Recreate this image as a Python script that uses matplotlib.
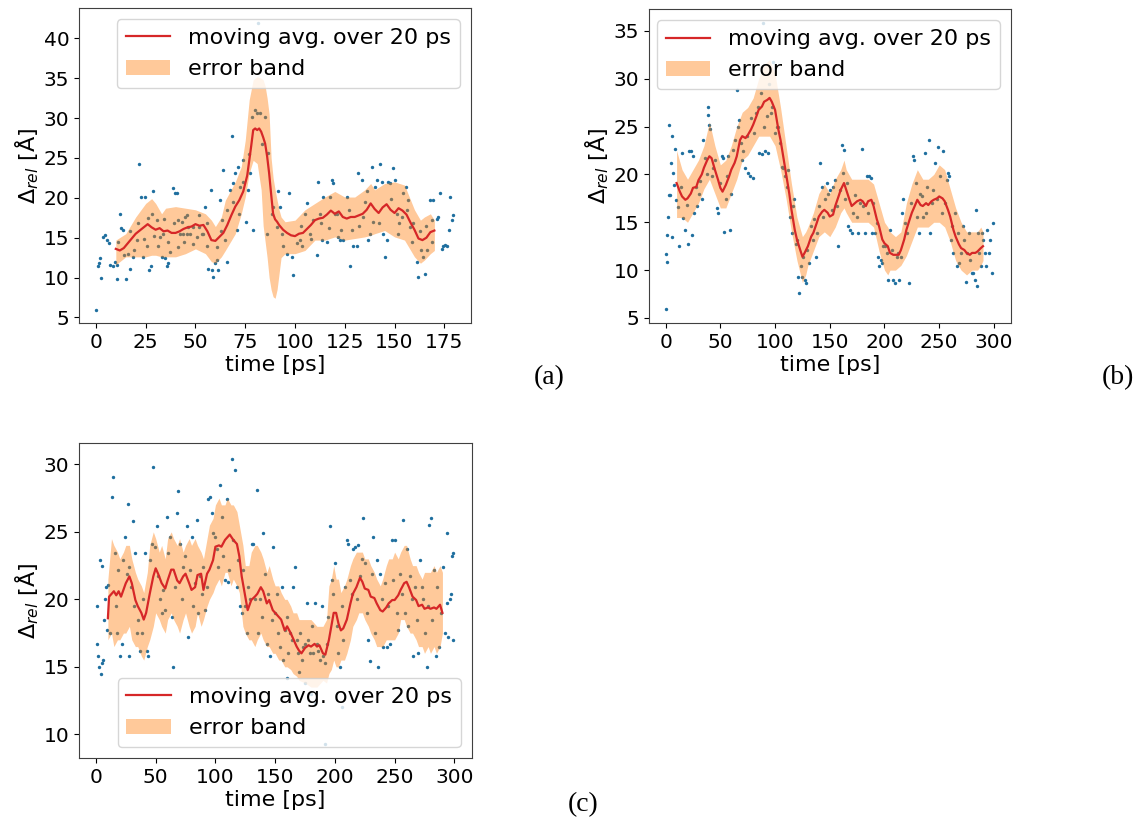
import matplotlib.pyplot as plt
import numpy as np

# ---------------- panel (a) ----------------
a_line_t = [10, 12, 14, 16, 18, 20, 22, 24, 26, 28, 30, 32, 34, 36, 38, 40, 42, 44, 46, 48,
            50, 52, 54, 56, 58, 60, 62, 64, 66, 68, 70, 72, 74, 76, 78, 79, 80, 81, 82, 83,
            84, 85, 86, 87, 88, 89, 90, 91, 92, 94, 96, 98, 100, 102, 104, 106, 108, 110, 112, 114,
            116, 118, 120, 122, 124, 126, 128, 130, 132, 134, 136, 138, 140, 142, 144, 146, 148, 150, 152, 154,
            156, 158, 160, 162, 164, 166, 168, 170]
a_line_v = [13.6, 13.4, 13.7, 14.3, 14.9, 15.5, 15.9, 16.3, 16.7, 16.3, 16.0, 16.2, 15.8, 15.9, 15.6, 15.6, 15.8, 16.1, 16.3, 16.4,
            16.7, 16.5, 16.6, 15.8, 14.7, 14.6, 15.1, 15.6, 16.6, 17.8, 18.9, 19.7, 20.8, 22.8, 26.5, 28.5, 28.7, 28.5, 28.7, 28.3,
            27.6, 26.8, 25.2, 23.1, 20.5, 18.0, 17.3, 17.0, 16.6, 16.0, 15.6, 15.3, 15.2, 15.5, 15.6, 16.1, 16.6, 17.2, 17.4, 17.5,
            17.9, 18.4, 18.0, 18.3, 17.6, 17.4, 17.6, 17.6, 17.8, 18.0, 18.5, 19.3, 18.6, 18.1, 18.8, 19.2, 18.5, 18.1, 18.7, 18.4,
            17.9, 16.9, 16.0, 14.9, 14.7, 15.0, 15.7, 15.9]
a_band_t = [10, 15, 20, 25, 28, 30, 33, 35, 40, 45, 50, 55, 58, 60, 63, 65, 70, 73, 75, 77,
            79, 81, 83, 84, 85, 86, 87, 88, 89, 90, 91, 92, 93, 95, 100, 105, 110, 115, 120, 125,
            130, 135, 138, 140, 145, 150, 155, 160, 163, 165, 168, 170]
a_band_hi = [14.7, 15.5, 17.6, 19.3, 19.9, 19.3, 18.0, 18.7, 18.9, 18.7, 18.5, 18.0, 17.2, 16.4, 17.6, 19.7, 22.0, 23.9, 27.2, 32.3,
             34.8, 35.2, 35.0, 34.8, 34.0, 32.5, 30.5, 25.0, 22.5, 21.0, 19.7, 18.5, 17.6, 17.0, 17.2, 18.5, 19.3, 20.1, 20.8, 20.1,
             20.1, 21.0, 21.8, 21.0, 21.8, 22.0, 21.6, 18.5, 17.2, 17.6, 18.0, 17.2]
a_band_lo = [11.6, 12.6, 12.6, 12.6, 12.8, 12.8, 12.6, 12.6, 12.6, 13.0, 13.6, 13.0, 12.0, 11.8, 12.6, 13.4, 15.5, 18.0, 20.1, 23.1,
             24.7, 24.3, 21.0, 16.5, 14.5, 12.5, 10.0, 8.5, 7.6, 7.4, 8.5, 10.5, 12.5, 13.0, 13.0, 13.4, 14.7, 14.7, 15.1, 14.7,
             14.9, 15.1, 15.3, 15.5, 15.9, 15.1, 14.7, 12.6, 11.8, 12.2, 13.0, 13.4]
a_pts = [(0, 5.9), (1.2, 11.4), (1.7, 11.8), (2.0, 12.4), (2.8, 9.9), (3.7, 15.1), (4.5, 15.3), (5.4, 14.7),
         (6.5, 14.3), (7.0, 11.6), (8.7, 11.4), (9.5, 12.0), (10.4, 11.6), (10.7, 9.8), (12.1, 18.0), (12.4, 16.2),
         (13.7, 16.0), (14.9, 9.8), (16.2, 13.0), (17.1, 11.1), (18.8, 12.6), (20.4, 14.7), (21.8, 24.2), (22.9, 20.1),
         (23.8, 12.6), (24.6, 20.1), (25.5, 13.9), (26.6, 10.9), (27.5, 11.4), (28.0, 18.0), (28.8, 20.8), (30.5, 17.2),
         (32.2, 15.1), (33.0, 12.6), (33.8, 15.5), (34.7, 12.4), (35.5, 11.4), (36.3, 11.8), (37.2, 13.2), (38.9, 21.2),
         (39.7, 20.6), (40.9, 20.6), (41.4, 17.2), (42.2, 15.5), (43.0, 17.0), (43.9, 15.5), (44.7, 17.6), (45.6, 15.5),
         (46.4, 16.4), (47.2, 15.5), (48.9, 16.4), (50.6, 15.1), (51.9, 16.4), (53.1, 15.5), (53.9, 15.5), (54.8, 18.9),
         (55.6, 16.8), (56.4, 11.1), (57.6, 21.0), (58.1, 10.9), (59.0, 10.1), (59.8, 11.8), (60.6, 12.2), (61.5, 10.9),
         (62.3, 19.7), (63.1, 17.2), (64.0, 23.5), (64.8, 14.7), (65.7, 12.0), (67.3, 21.0), (68.2, 27.7), (69.0, 21.8),
         (69.8, 23.1), (70.7, 16.0), (71.5, 23.9), (72.4, 21.4), (74.0, 24.7), (75.4, 17.0), (76.6, 21.0), (77.4, 23.1),
         (78.2, 30.2), (79.1, 16.0), (79.9, 31.0), (80.7, 30.6), (81.6, 41.9), (82.4, 30.6), (83.2, 26.8), (84.9, 30.2),
         (85.8, 15.5), (86.6, 25.6), (88.3, 18.0), (89.1, 18.9), (90.8, 16.4), (91.6, 20.8), (92.5, 18.9), (93.3, 15.5),
         (94.1, 13.9), (95.8, 13.0), (97.2, 20.6), (98.3, 12.6), (99.2, 10.3), (100.8, 14.3), (102.5, 14.7), (103.3, 13.9),
         (105.0, 18.0), (105.9, 19.3), (107.5, 15.5), (109.2, 17.2), (110.9, 12.8), (111.7, 22.0), (112.6, 18.0), (113.4, 14.7),
         (114.2, 20.1), (115.9, 14.5), (117.6, 20.1), (118.4, 22.2), (119.3, 21.8), (120.1, 18.0), (120.9, 18.0), (121.8, 15.1),
         (122.6, 14.7), (124.3, 14.7), (125.9, 20.1), (127.6, 11.4), (128.5, 16.0), (129.3, 13.9), (131.0, 13.9), (131.8, 23.1),
         (133.5, 22.2), (134.3, 17.6), (136.0, 20.8), (136.9, 14.7), (137.7, 15.5), (138.5, 23.9), (140.2, 21.4), (141.0, 22.2),
         (142.7, 24.3), (143.6, 22.0), (144.4, 15.5), (145.2, 12.6), (146.1, 14.7), (146.9, 22.0), (147.7, 21.8), (149.4, 23.7),
         (150.3, 22.2), (151.1, 18.0), (151.9, 15.5), (153.6, 17.6), (154.4, 20.6), (155.8, 21.4), (157.0, 19.7), (157.8, 16.4),
         (159.5, 16.9), (161.1, 12.0), (162.0, 10.1), (163.1, 13.4), (164.5, 12.6), (165.3, 10.5), (166.2, 13.4), (167.8, 19.7),
         (168.7, 17.2), (169.5, 19.7), (171.2, 17.4), (172.0, 17.6), (172.9, 20.6), (173.7, 13.6), (174.5, 13.9), (175.3, 14.1),
         (176.2, 13.9), (177.1, 16.0), (177.9, 20.1), (178.7, 17.2), (179.6, 17.8),
         (11, 14.5), (14, 12.8), (17, 15.8), (19, 13.5), (21, 16.8), (24, 14.8), (26, 17.5), (29, 15.2), (31, 14.0),
         (34, 17.3), (36, 14.5), (39, 16.8), (41, 13.8), (44, 14.5), (46, 17.8), (49, 14.2), (52, 17.8), (56, 14.0),
         (61, 13.8), (63, 15.8), (66, 18.5), (69, 19.5), (72, 18.0), (74, 22.0), (77, 25.5), (103, 16.5), (108, 14.8),
         (113, 16.8), (117, 16.2), (123, 16.0), (127, 18.5), (132, 16.5), (135, 19.5), (139, 17.0), (142, 16.8),
         (148, 19.8), (152, 16.8), (156, 18.5), (159, 14.5), (163, 15.8), (166, 16.5), (169, 14.5)]

# ---------------- panel (b) ----------------
b_line_t = [10, 13, 15, 18, 20, 23, 25, 28, 30, 33, 35, 38, 40, 42, 45, 48, 50, 52, 55, 58,
            60, 63, 65, 68, 70, 73, 75, 78, 80, 83, 85, 88, 90, 93, 95, 97, 100, 103, 105, 108,
            110, 113, 115, 118, 120, 123, 125, 127, 130, 133, 135, 138, 140, 143, 145, 148, 150, 153, 155, 158,
            160, 163, 165, 168, 170, 173, 175, 178, 180, 183, 185, 188, 190, 193, 195, 198, 200, 203, 205, 208,
            210, 213, 215, 218, 220, 223, 225, 228, 230, 233, 235, 238, 240, 243, 245, 248, 250, 253, 255, 258,
            260, 263, 265, 268, 270, 273, 275, 278, 280, 283, 285, 288, 290]
b_line_v = [19.1, 18.2, 17.7, 17.35, 17.5, 18.0, 18.6, 18.7, 19.4, 20.0, 20.7, 21.5, 21.9, 21.7, 20.5, 19.4, 18.6, 18.2, 18.9, 19.8,
            20.5, 21.2, 21.9, 23.6, 24.0, 23.8, 24.1, 24.7, 25.2, 26.1, 26.75, 27.1, 27.6, 27.8, 28.0, 27.6, 26.75, 24.7, 23.6, 21.5,
            20.1, 18.0, 16.3, 14.2, 13.2, 12.1, 11.4, 11.8, 12.5, 13.5, 13.9, 14.9, 15.6, 16.1, 16.3, 16.0, 15.6, 15.8, 16.7, 17.7,
            18.4, 19.1, 18.4, 17.35, 16.7, 17.0, 17.2, 17.35, 17.2, 16.7, 17.2, 17.35, 16.7, 15.3, 14.6, 13.2, 12.8, 12.5, 11.8, 11.6,
            11.6, 11.6, 12.1, 13.2, 14.2, 15.3, 16.0, 16.8, 17.35, 16.8, 16.7, 17.0, 16.8, 17.2, 17.35, 17.5, 17.7, 17.5, 17.2, 16.3,
            15.6, 14.2, 13.5, 12.7, 12.3, 12.1, 11.8, 11.6, 11.8, 11.8, 11.95, 12.3, 12.5]
b_band_t = [10, 15, 20, 25, 30, 35, 40, 45, 50, 55, 60, 65, 70, 75, 80, 85, 90, 95, 100, 105,
            110, 115, 120, 125, 128, 130, 135, 140, 145, 150, 155, 160, 163, 165, 170, 175, 180, 185, 190, 195,
            200, 203, 205, 210, 215, 220, 225, 230, 235, 240, 245, 250, 255, 260, 265, 270, 275, 280, 285, 288, 290]
b_band_hi = [22.5, 20.5, 19.5, 20.5, 21.5, 23.0, 25.5, 23.0, 21.0, 21.5, 23.0, 25.0, 26.5, 27.0, 28.0, 30.0, 31.5, 32.0, 30.5, 27.0,
             23.0, 19.0, 15.5, 13.5, 14.0, 14.5, 16.0, 18.0, 19.0, 18.0, 19.5, 20.5, 21.5, 20.5, 19.5, 19.5, 19.5, 19.5, 19.0, 17.0,
             15.0, 14.5, 14.0, 13.5, 14.0, 17.0, 19.0, 20.5, 19.5, 19.5, 20.0, 21.0, 20.5, 18.5, 16.5, 15.0, 14.0, 14.0, 14.0, 14.5, 14.0]
b_band_lo = [15.5, 15.5, 15.0, 16.0, 17.0, 18.5, 19.5, 18.0, 16.5, 16.5, 18.0, 19.5, 21.5, 22.0, 23.0, 24.0, 24.0, 24.0, 23.0, 20.5,
             17.5, 14.0, 11.0, 8.7, 9.5, 10.5, 12.0, 13.5, 14.0, 13.5, 14.5, 16.0, 16.5, 16.0, 15.0, 15.0, 15.0, 15.0, 14.5, 12.0,
             10.0, 9.5, 10.0, 10.0, 10.5, 11.5, 13.0, 14.5, 14.5, 14.5, 15.0, 15.0, 14.5, 13.0, 11.0, 10.0, 9.5, 10.0, 10.0, 10.5, 11.0]
b_pts = [(0, 5.9), (0.3, 11.7), (1, 13.7), (1.5, 10.8), (2.4, 15.6), (3, 17.9), (3.4, 25.2), (4, 17.9), (4.9, 21.2),
         (5.5, 13.5), (6.1, 24.0), (7, 20.1), (7.6, 18.9), (8.5, 22.7), (9.4, 17.3), (11.6, 16.6), (12.5, 12.5), (14, 18.7),
         (15.2, 22.2), (16.1, 15.4), (17.7, 14.2), (19.2, 16.8), (20.7, 12.7), (21.6, 22.5), (22.8, 22.4), (23.8, 13.7),
         (25.3, 21.9), (25.9, 16.0), (27.7, 18.7), (28.9, 16.7), (30.5, 18.0), (31.4, 19.3), (32.9, 17.4), (34.4, 23.6),
         (35.9, 21.7), (37.5, 20.0), (38.4, 27.1), (39, 26.2), (39.9, 25.2), (40.5, 24.7), (42, 19.8), (43.6, 20.7),
         (45.1, 21.5), (46.6, 16.5), (48.1, 16.0), (49.6, 19.1), (51.2, 21.9), (52.7, 21.7), (53.3, 14.0), (55.1, 17.4),
         (55.7, 19.8), (57.3, 21.9), (58.8, 14.2), (60, 18.0), (61.8, 22.6), (63.4, 23.6), (64.9, 28.8), (65.8, 25.0),
         (67.3, 25.7), (68.5, 23.3), (69.4, 21.5), (70.9, 22.4), (72.5, 20.7), (74, 24.0), (75.5, 20.1), (77.1, 19.8),
         (78, 25.9), (79.5, 19.6), (81, 24.3), (82.5, 26.4), (84.1, 27.1), (85.6, 22.2), (86.8, 28.5), (87.7, 22.1),
         (88.6, 35.8), (89.9, 25.0), (90.8, 22.4), (92.3, 26.1), (93.8, 22.2), (94.7, 29.5), (95.9, 26.4), (97.5, 27.1),
         (98.4, 31.8), (99.9, 24.3), (101.4, 25.0), (103, 25.0), (104.5, 23.3), (106, 20.8), (107.5, 20.7), (109.1, 19.8),
         (110.6, 18.7), (112.1, 20.5), (113.6, 15.6), (115.1, 13.9), (116.7, 16.7), (117.6, 17.4), (119.1, 12.7), (120.3, 13.2),
         (121.2, 9.3), (122.1, 7.6), (123.4, 10.4), (124.9, 9.3), (125.8, 11.4), (127.3, 9.0), (128.2, 8.7), (129.5, 12.1),
         (131.3, 10.7), (132.5, 14.6), (134.3, 13.2), (135.5, 15.3), (137.4, 11.4), (138.6, 13.9), (139.8, 16.7), (141, 21.2),
         (142.6, 18.7), (144.1, 15.6), (145.6, 17.4), (147.1, 19.1), (148.6, 18.0), (150.2, 18.4), (151.7, 16.3), (153.2, 18.7),
         (154.7, 19.4), (156.3, 16.7), (157.8, 12.5), (159.3, 18.4), (160.8, 23.1), (161.7, 20.1), (162.9, 22.6), (164.2, 17.4),
         (165.4, 19.1), (166.9, 14.6), (168.4, 14.2), (170, 13.9), (171.5, 16.0), (173, 17.9), (174.5, 15.6), (176.1, 13.9),
         (177.6, 17.0), (179.1, 22.7), (180.6, 16.7), (182.2, 13.9), (183.7, 19.8), (185.2, 16.0), (186.1, 19.8), (187.3, 19.6),
         (188.2, 13.9), (189.8, 17.0), (191.3, 13.9), (192.8, 14.9), (194.3, 11.4), (195.2, 10.4), (196.5, 11.1), (197.7, 10.7),
         (198.9, 12.5), (200.4, 12.5), (202, 11.8), (203.5, 9.0), (205, 14.2), (206.5, 12.1), (208, 9.0), (209.6, 8.7),
         (211.1, 11.4), (212.6, 11.8), (213.5, 9.0), (214.7, 11.4), (215.7, 16.0), (217.2, 17.4), (218.7, 14.9), (220.2, 13.9),
         (222.7, 8.7), (223.9, 17.0), (225.7, 21.9), (226.9, 21.5), (228.8, 19.1), (230, 15.6), (231.2, 13.9), (232.4, 18.0),
         (233.9, 17.7), (235.5, 15.6), (236.7, 22.2), (237.9, 16.0), (239.1, 18.7), (240.6, 23.6), (241.5, 13.9), (243.1, 17.0),
         (244.6, 18.4), (246.1, 21.2), (247.6, 17.4), (249.2, 22.9), (250.7, 19.8), (252.2, 16.0), (253.7, 22.4), (255.3, 17.0),
         (256.8, 19.4), (258.3, 20.1), (259.2, 19.8), (260.4, 13.2), (261.7, 14.6), (262.9, 11.8), (264.4, 16.0), (265.9, 10.4),
         (267.1, 13.9), (268.4, 10.7), (269.6, 11.8), (271.4, 14.6), (272.6, 13.2), (274.4, 8.8), (275.7, 11.8), (276.9, 13.9),
         (278.1, 11.1), (279.6, 9.7), (281.1, 9.7), (282.4, 9.0), (283.6, 16.3), (284.2, 8.3), (285.4, 13.9), (286.6, 11.8),
         (287.9, 10.4), (289.1, 13.9), (290.3, 13.2), (291.5, 11.8), (292.7, 10.4), (293.9, 14.2), (295.2, 11.8), (296.4, 13.2),
         (297.9, 9.7), (299.4, 14.9)]

# ---------------- panel (c) ----------------
c_line_t = [10, 11, 13, 15, 17, 19, 21, 23, 25, 28, 30, 33, 35, 38, 40, 42, 45, 48, 50, 52,
            55, 58, 60, 63, 65, 68, 70, 73, 75, 78, 80, 83, 85, 88, 90, 93, 95, 98, 100, 103,
            105, 108, 110, 112, 115, 118, 120, 122, 125, 127, 130, 133, 135, 138, 140, 143, 145, 148, 150, 153,
            155, 158, 160, 163, 165, 168, 170, 172, 175, 178, 180, 183, 185, 187, 190, 192, 195, 197, 199, 201,
            203, 205, 207, 210, 213, 215, 218, 221, 223, 225, 228, 230, 233, 235, 238, 240, 243, 245, 248, 250,
            253, 255, 258, 260, 262, 265, 268, 270, 273, 275, 278, 280, 283, 285, 288, 290]
c_line_v = [18.6, 20.2, 20.4, 20.6, 20.3, 20.6, 20.2, 20.7, 21.2, 21.7, 21.2, 19.95, 19.5, 19.0, 18.5, 19.0, 20.4, 21.7, 22.3, 21.9,
            21.2, 20.8, 21.4, 22.2, 22.2, 21.4, 21.2, 21.7, 21.9, 21.2, 20.7, 20.9, 21.8, 21.9, 20.7, 21.9, 22.2, 22.9, 23.9, 24.0,
            23.9, 24.4, 24.6, 24.8, 24.4, 24.1, 23.2, 21.7, 20.2, 19.2, 19.95, 20.2, 20.4, 20.9, 20.6, 19.7, 19.95, 19.2, 19.0, 18.7,
            18.5, 17.7, 18.0, 17.5, 17.1, 16.5, 16.2, 16.0, 16.4, 16.6, 16.5, 16.7, 16.5, 16.6, 16.0, 15.9, 17.0, 18.0, 19.0, 19.0,
            18.2, 17.7, 17.85, 18.5, 19.7, 20.4, 20.9, 21.6, 21.3, 20.8, 20.7, 20.2, 20.1, 19.7, 19.2, 19.1, 19.4, 19.7, 19.95, 19.95,
            20.3, 20.7, 21.2, 21.3, 20.9, 20.2, 19.95, 19.5, 19.6, 19.3, 19.4, 19.3, 19.4, 19.3, 19.6, 19.0]
c_band_t = [10, 13, 15, 18, 20, 23, 25, 28, 30, 33, 35, 38, 40, 43, 45, 48, 50, 53, 55, 58,
            60, 63, 65, 68, 70, 73, 75, 78, 80, 83, 85, 88, 90, 93, 95, 98, 100, 103, 105, 108,
            110, 113, 115, 118, 120, 123, 125, 128, 130, 133, 135, 138, 140, 143, 145, 148, 150, 153, 155, 158,
            160, 163, 165, 168, 170, 175, 180, 185, 190, 193, 195, 197, 199, 201, 203, 205, 208, 210, 213, 215,
            218, 220, 223, 225, 228, 230, 233, 235, 238, 240, 243, 245, 248, 250, 253, 255, 258, 260, 263, 265,
            268, 270, 273, 275, 278, 280, 283, 285, 288, 290]
c_band_hi = [21.5, 24.5, 24.0, 23.5, 23.0, 23.5, 24.0, 24.0, 23.0, 22.0, 21.5, 21.0, 20.5, 22.0, 24.0, 25.0, 24.5, 23.5, 24.0, 23.0,
             24.5, 25.0, 24.5, 24.0, 24.5, 23.5, 24.0, 24.5, 24.0, 24.5, 24.0, 23.5, 23.0, 24.5, 25.5, 26.0, 27.0, 27.5, 27.0, 27.0,
             27.5, 27.0, 27.0, 26.5, 25.5, 24.0, 22.5, 22.5, 23.5, 24.0, 24.0, 23.5, 23.0, 22.0, 22.5, 21.5, 21.0, 21.0, 20.5, 20.0,
             20.0, 19.5, 19.0, 19.0, 18.5, 18.5, 18.5, 18.0, 18.0, 18.5, 21.0, 21.5, 22.5, 21.5, 21.5, 20.5, 21.0, 21.5, 22.5, 23.0,
             23.5, 23.5, 23.5, 23.0, 23.0, 22.5, 22.0, 21.5, 21.0, 21.5, 22.5, 23.0, 23.0, 23.5, 23.0, 23.5, 24.0, 24.0, 23.0, 22.5,
             22.5, 22.0, 21.5, 22.0, 22.0, 22.0, 22.5, 22.0, 22.5, 22.0]
c_band_lo = [17.0, 17.5, 16.5, 17.0, 17.0, 17.5, 17.5, 18.0, 17.0, 16.5, 16.5, 15.8, 15.5, 16.5, 17.0, 18.0, 19.0, 18.5, 18.0, 17.5,
             18.5, 19.0, 18.5, 18.0, 17.5, 18.5, 19.0, 18.0, 17.5, 18.0, 19.0, 18.0, 18.5, 19.5, 20.0, 20.5, 21.0, 21.5, 21.0, 22.0,
             22.0, 21.0, 21.5, 21.0, 20.5, 18.0, 17.5, 17.0, 17.0, 16.5, 17.0, 17.5, 17.0, 16.5, 16.5, 16.0, 16.0, 15.5, 15.5, 15.0,
             15.0, 14.8, 14.5, 14.3, 14.0, 13.8, 13.5, 13.5, 14.0, 13.8, 14.5, 14.8, 15.5, 15.0, 15.0, 15.5, 15.5, 16.0, 17.0, 18.0,
             18.5, 19.0, 19.0, 18.5, 18.0, 17.5, 17.0, 16.5, 16.5, 16.5, 17.0, 17.0, 17.0, 17.0, 17.5, 18.5, 18.5, 18.0, 17.5, 17.5,
             17.0, 16.5, 16.5, 16.0, 16.5, 16.0, 16.5, 16.0, 16.5, 17.5]
c_pts = [(0.6, 19.5), (1.1, 16.7), (1.9, 15.8), (2.5, 15.0), (3.3, 22.9), (3.9, 14.5), (4.7, 22.5), (5, 15.3),
         (6.1, 15.5), (6.7, 18.5), (7.5, 20.0), (8.4, 20.9), (8.9, 17.7), (10.3, 21.1), (11.7, 17.5), (13.1, 27.6),
         (14.5, 29.1), (15.9, 23.4), (16.7, 19.5), (17.9, 17.5), (18.7, 22.2), (20.1, 15.8), (21.5, 16.7), (22.9, 22.9),
         (24.3, 24.6), (25.7, 21.9), (27.1, 27.1), (27.9, 22.4), (29, 20.9), (30.7, 25.8), (31.8, 19.5), (32.7, 23.4),
         (34, 17.5), (35.4, 18.5), (36.8, 16.2), (38.2, 17.5), (39.6, 20.0), (41, 23.4), (42.4, 16.2), (43.8, 15.8),
         (45.2, 22.9), (46.6, 24.1), (48, 29.8), (49.4, 23.9), (50.8, 25.4), (52.2, 21.7), (53.6, 20.0), (55, 19.0),
         (56.4, 20.7), (57.8, 19.2), (59.2, 26.1), (60.6, 23.4), (62, 24.6), (63.4, 18.7), (64.8, 15.0), (66.1, 20.9),
         (67.5, 26.4), (68.9, 28.0), (70.3, 24.1), (71.7, 20.0), (73.1, 22.4), (74.5, 23.2), (75.9, 25.4), (77.3, 17.2),
         (78.7, 22.2), (80.1, 24.6), (81.5, 19.5), (82.9, 21.2), (84.3, 25.9), (85.7, 19.0), (87.1, 21.7), (88.5, 20.4),
         (89.9, 22.4), (91.3, 19.2), (92.7, 20.9), (94.1, 27.4), (95.5, 27.6), (96.8, 26.4), (98.2, 24.9), (99.6, 24.6),
         (101, 23.7), (102.4, 22.4), (103.8, 28.5), (105.2, 26.1), (106.6, 23.2), (108, 21.4), (109.4, 27.4), (110.2, 21.3),
         (111.6, 22.2), (113.6, 30.4), (115, 24.4), (116.4, 29.6), (117.8, 20.9), (119.2, 22.9), (120.6, 19.5), (122, 19.0),
         (123.4, 22.2), (124.8, 19.5), (126.2, 17.5), (127.5, 20.9), (128.9, 20.0), (130.3, 24.1), (131.7, 24.1), (133.1, 20.0),
         (134.5, 28.1), (135.9, 17.5), (137.3, 20.0), (138.7, 18.7), (140.1, 24.9), (141.5, 21.9), (142.9, 16.7), (144.3, 20.4),
         (145.7, 15.8), (147.1, 18.5), (148.5, 23.9), (149.9, 19.0), (151.3, 20.4), (152.7, 17.5), (154.1, 16.5), (155.5, 20.9),
         (156.9, 15.5), (158.3, 17.7), (159.6, 18.7), (161, 16.0), (162.4, 17.5), (163.8, 17.0), (165.2, 20.9), (166.6, 22.4),
         (168, 17.0), (169.4, 16.0), (170.8, 17.5), (172.2, 15.5), (173.6, 16.5), (175, 16.7), (176.4, 19.7), (177.8, 17.0),
         (179.2, 16.0), (180.6, 18.0), (182, 16.0), (183.4, 19.7), (184.8, 16.7), (186.2, 16.2), (187.5, 15.5), (188.9, 19.5),
         (190.3, 15.8), (191.7, 15.3), (193.1, 16.7), (194.5, 18.7), (195.9, 25.4), (197.3, 21.4), (198.7, 20.4), (200.1, 22.7),
         (201.5, 18.0), (202.9, 16.0), (204.3, 15.0), (205.7, 19.5), (207.1, 17.0), (208.5, 20.9), (209.9, 24.4), (211.3, 24.1),
         (212.7, 21.4), (214.1, 20.4), (215.5, 23.7), (216.9, 23.9), (218.3, 20.0), (219.6, 24.0), (221, 21.7), (222.4, 23.0),
         (223.8, 26.0), (225.2, 22.7), (226.6, 19.0), (228, 17.0), (229.4, 15.4), (230.8, 21.9), (232.2, 24.6), (233.6, 17.5),
         (235, 22.9), (236.4, 15.0), (237.8, 21.9), (239.2, 20.0), (240.6, 16.5), (242, 21.2), (243.4, 16.5), (244.8, 19.5),
         (246.2, 16.7), (247.6, 24.4), (249, 21.4), (250.4, 24.4), (251.7, 19.0), (253.1, 17.7), (254.5, 21.9), (255.9, 20.4),
         (257.3, 25.9), (258.7, 19.0), (260.1, 23.7), (261.5, 18.0), (262.9, 21.7), (264.3, 20.0), (265.7, 15.8), (267.1, 20.9),
         (268.5, 18.5), (269.9, 16.0), (271.3, 22.9), (272.6, 20.9), (274, 20.0), (275.4, 17.5), (276.8, 15.0), (278.3, 19.5),
         (279.1, 25.5), (280.2, 26.0), (281.6, 18.5), (283, 22.2), (284.4, 15.8), (285.8, 20.9), (287.5, 16.5), (288.6, 19.0),
         (290.8, 22.4), (292.2, 17.5), (293.6, 19.7), (294.2, 24.9), (295, 17.2), (296.4, 20.0), (297, 20.4), (297.8, 23.2),
         (298.6, 17.0), (299.2, 23.4), (28, 15.8), (170, 14.6), (180, 13.0), (183, 12.3), (191.7, 9.3), (206, 12.0),
         (160, 14.2), (175, 13.8)]

panels = [
    ("(a)", a_line_t, a_line_v, a_band_t, a_band_hi, a_band_lo, a_pts),
    ("(b)", b_line_t, b_line_v, b_band_t, b_band_hi, b_band_lo, b_pts),
    ("(c)", c_line_t, c_line_v, c_band_t, c_band_hi, c_band_lo, c_pts),
]

# axes rectangles in figure fractions, measured on the 1138x823 reference
rects = [
    [0.0694, 0.6075, 0.3445, 0.3827],
    [0.5703, 0.6075, 0.3181, 0.3812],
    [0.0694, 0.0786, 0.3451, 0.3827],
]
xlims = [(-8.5, 188.4), (-15.2, 315.6), (-14.2, 314.5)]
ylims = [(4.3, 43.8), (4.47, 37.26), (8.22, 31.56)]
yticks = [np.arange(5, 41, 5), np.arange(5, 36, 5), np.arange(10, 31, 5)]
xticks = [np.arange(0, 176, 25), np.arange(0, 301, 50), np.arange(0, 301, 50)]
legend_locs = ["upper right", "upper right", "lower right"]
label_pos = [(549, 378), (1118, 378), (583, 805)]


def main():
    fig = plt.figure(figsize=(11.38, 8.23), dpi=100)

    for i, (tag, lt, lv, bt, bhi, blo, pts) in enumerate(panels):
        ax = fig.add_axes(rects[i])
        pts = np.array(pts)
        ax.scatter(pts[:, 0], pts[:, 1], s=6, color="#1f6f9f", linewidths=0, zorder=1)
        band = ax.fill_between(bt, blo, bhi, color="#ff7f0e", alpha=0.42,
                               linewidth=0, label="error band", zorder=2)
        line, = ax.plot(lt, lv, color="#d62728", lw=1.6,
                        label="moving avg. over 20 ps", zorder=3)

        ax.set_xlim(*xlims[i])
        ax.set_ylim(*ylims[i])
        ax.set_xticks(xticks[i])
        ax.set_yticks(yticks[i])
        ax.tick_params(labelsize=14.5)
        ax.set_xlabel("time [ps]", fontsize=16, labelpad=2)
        ax.set_ylabel(r"$\mathit{\Delta}_{rel}$ [Å]", fontsize=16, labelpad=2)
        for sp in ax.spines.values():
            sp.set_color("0.25")

        ax.legend(handles=[line, band], loc=legend_locs[i], fontsize=16)

        x, y = label_pos[i]
        fig.text(x / 1138, 1 - y / 823, tag, ha="center", va="center",
                 fontsize=20, family="Liberation Serif")

    fig.savefig("out.png", dpi=100)


if __name__ == "__main__":
    main()
